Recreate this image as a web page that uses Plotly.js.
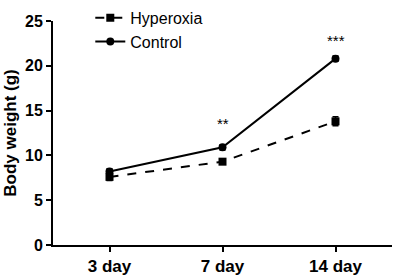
<!DOCTYPE html>
<html><head><meta charset="utf-8">
<script src="https://cdn.plot.ly/plotly-3.0.1.min.js"></script>
<style>html,body{margin:0;padding:0;background:#fff}#c{width:394px;height:276px}</style>
</head><body><div id="c"></div>
<script>
const categories = ["3 day", "7 day", "14 day"];
const hyperoxia = [7.6, 9.3, 13.8];
const hyperoxiaErr = [0.4, 0.3, 0.5];
const control = [8.2, 10.9, 20.8];
const controlErr = [0.3, 0.3, 0.3];
const sigLabels = ["", "**", "***"];
const sigY = [0, 13.6, 22.8];
const yTicks = [0, 5, 10, 15, 20, 25];

const font = "Arial, 'Liberation Sans', sans-serif";
const traces = [
  {x: categories, y: hyperoxia, name: "Hyperoxia", type: "scatter", mode: "lines+markers",
   line: {color: "#000", width: 2, dash: "dash"}, marker: {symbol: "square", size: 8, color: "#000"},
   error_y: {type: "data", array: hyperoxiaErr, color: "#000", thickness: 1.5, width: 3}},
  {x: categories, y: control, name: "Control", type: "scatter", mode: "lines+markers",
   line: {color: "#000", width: 2}, marker: {symbol: "circle", size: 8, color: "#000"},
   error_y: {type: "data", array: controlErr, color: "#000", thickness: 1.5, width: 3}}
];
const annotations = [];
categories.forEach((c, i) => {
  if (sigLabels[i]) annotations.push({x: c, y: sigY[i], text: sigLabels[i], showarrow: false,
    font: {family: font, size: 15, color: "#000"}, xref: "x", yref: "y"});
});
const layout = {
  width: 394, height: 276,
  margin: {l: 53, r: 2, t: 20, b: 31},
  paper_bgcolor: "#fff", plot_bgcolor: "#fff",
  showlegend: true,
  legend: {x: 0.11, y: 1.085, xanchor: "left", yanchor: "top", bgcolor: "rgba(0,0,0,0)",
    borderwidth: 0, font: {family: font, size: 16, color: "#000"}, tracegroupgap: 0, itemwidth: 30},
  xaxis: {type: "category", range: [-0.5, 2.5], showline: true, linecolor: "#000", linewidth: 2,
    ticks: "outside", ticklen: 5, tickwidth: 2, tickcolor: "#000", showgrid: false, zeroline: false,
    tickfont: {family: font, size: 17, color: "#000", weight: "bold"}},
  yaxis: {range: [0, 25], tickvals: yTicks, showline: true, linecolor: "#000", linewidth: 2,
    ticks: "outside", ticklen: 5, tickwidth: 2, tickcolor: "#000", showgrid: false, zeroline: false,
    tickfont: {family: font, size: 16, color: "#000", weight: "bold"},
    title: {text: "Body weight (g)", font: {family: font, size: 17, color: "#000", weight: "bold"}, standoff: 4}},
  annotations: annotations
};
Plotly.newPlot("c", traces, layout, {displayModeBar: false, staticPlot: true});
</script></body></html>
